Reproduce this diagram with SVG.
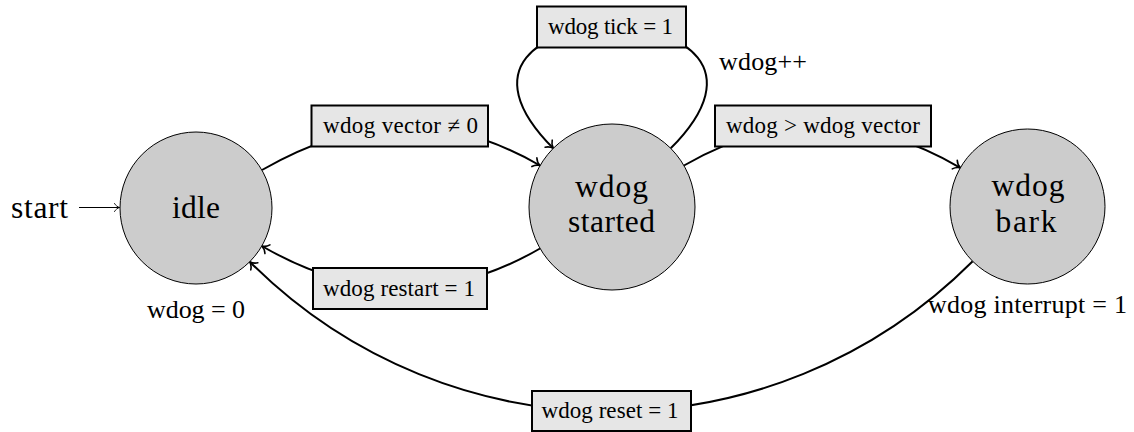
<svg xmlns="http://www.w3.org/2000/svg" width="1134" height="432" viewBox="0 0 1134 432">
  <style>
    text { font-family: "Liberation Serif", "DejaVu Serif", serif; fill: #000; }
    .state { fill: #cccccc; stroke: #000; stroke-width: 1; }
    .state-text { font-size: 31.5px; text-anchor: middle; }
    .edge { fill: none; stroke: #000; stroke-width: 2; }
    .thin { fill: none; stroke: #000; stroke-width: 1; }
    .cond { fill: #e6e6e6; stroke: #000; stroke-width: 2; }
    .cond-text { font-size: 23px; text-anchor: middle; }
    .note { font-size: 26px; }
  </style>
  <defs>
    <marker id="arrow" markerUnits="userSpaceOnUse" markerWidth="14" markerHeight="14" refX="0" refY="0" viewBox="-8 -7 9 14" orient="auto" overflow="visible">
      <path d="M -6.5 -5 C -5 -2.5 -2 -0.6 0 0 C -2 0.6 -5 2.5 -6.5 5" fill="none" stroke="#000" stroke-width="1.6" stroke-linecap="round"/>
    </marker>
    <marker id="arrow-thin" markerUnits="userSpaceOnUse" markerWidth="12" markerHeight="12" refX="0" refY="0" viewBox="-7 -6 8 12" orient="auto" overflow="visible">
      <path d="M -5 -4 C -4 -2 -1.6 -0.5 0 0 C -1.6 0.5 -4 2 -5 4" fill="none" stroke="#000" stroke-width="0.9" stroke-linecap="round"/>
    </marker>
  </defs>

  <!-- transitions -->
  <g id="connectors">
    <path class="thin" d="M 79 207.5 L 119.5 207.5" marker-end="url(#arrow-thin)"/>
    <path class="edge" d="M 262 170 C 356 115.6 446 111 540 165.5" marker-end="url(#arrow)"/>
    <path class="edge" d="M 670.7 148.3 C 831.9 -12.9 392.1 -12.9 553.3 148.3" marker-end="url(#arrow)"/>
    <path class="edge" d="M 684 165.5 C 777.7 111.4 866.7 113.7 960.4 167.8" marker-end="url(#arrow)"/>
    <path class="edge" d="M 540 248.5 C 445.8 302.9 356 300.4 261.8 246" marker-end="url(#arrow)"/>
    <path class="edge" d="M 972.7 261.3 C 772.6 461.4 449.8 461.8 249.7 261.7" marker-end="url(#arrow)"/>
  </g>

  <!-- states -->
  <g id="idle">
    <circle class="state" cx="196" cy="208" r="76"/>
    <text class="state-text" x="196" y="218" textLength="48">idle</text>
  </g>
  <g id="started">
    <circle class="state" cx="612" cy="207" r="83"/>
    <text class="state-text" x="611.5" y="197" textLength="73">wdog</text>
    <text class="state-text" x="611.5" y="232" textLength="87">started</text>
  </g>
  <g id="bark">
    <circle class="state" cx="1027.5" cy="206.5" r="77.5"/>
    <text class="state-text" x="1028" y="196" textLength="73">wdog</text>
    <text class="state-text" x="1026" y="232" textLength="61">bark</text>
  </g>

  <!-- transition conditions -->
  <g id="cond-vector">
    <rect class="cond" x="311.5" y="105.5" width="176.5" height="41"/>
    <text class="cond-text" x="400.5" y="133" textLength="155">wdog vector ≠ 0</text>
  </g>
  <g id="cond-tick">
    <rect class="cond" x="537" y="6.5" width="149" height="41"/>
    <text class="cond-text" x="610.5" y="34" textLength="125">wdog tick = 1</text>
  </g>
  <g id="cond-overflow">
    <rect class="cond" x="715" y="105.5" width="216" height="41"/>
    <text class="cond-text" x="823" y="133" textLength="194">wdog &gt; wdog vector</text>
  </g>
  <g id="cond-restart">
    <rect class="cond" x="313" y="268" width="174" height="41"/>
    <text class="cond-text" x="399" y="295.5" textLength="152">wdog restart = 1</text>
  </g>
  <g id="cond-reset">
    <rect class="cond" x="532" y="391" width="159" height="40"/>
    <text class="cond-text" x="610" y="418" textLength="137">wdog reset = 1</text>
  </g>

  <!-- actions and entry -->
  <g id="notes">
    <text class="note" x="11" y="218" textLength="57" style="font-size:31.5px">start</text>
    <text class="note" x="196" y="318" text-anchor="middle" textLength="98">wdog = 0</text>
    <text class="note" x="719" y="70" textLength="88">wdog++</text>
    <text class="note" x="928" y="313" textLength="199">wdog interrupt = 1</text>
  </g>
</svg>
